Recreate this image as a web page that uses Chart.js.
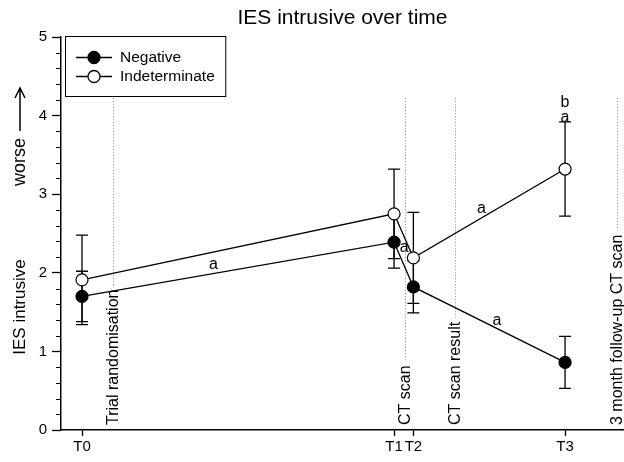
<!DOCTYPE html>
<html>
<head>
<meta charset="utf-8">
<script src="https://cdn.jsdelivr.net/npm/chart.js@4"></script>
<style>
  html, body { margin: 0; padding: 0; background: #fff; overflow: hidden; }
  #wrap { width: 624px; height: 462px; }
</style>
</head>
<body>
<div id="wrap"><canvas id="chart"></canvas></div>
<script>
// time points (arbitrary units, T0 = 0, T3 = 100)
const timeLabels = ['T0', 'T1', 'T2', 'T3'];
const times = [0, 64.6, 68.6, 100];

// means and error bar half-widths
const negMean = [1.70, 2.39, 1.82, 0.86];
const negErr = [0.32, 0.33, 0.33, 0.33];
const indMean = [1.91, 2.75, 2.19, 3.32];
const indErr = [0.57, 0.57, 0.58, 0.60];

// study events shown as dotted lines
const eventNames = ['Trial randomisation', 'CT scan', 'CT scan result', '3 month follow-up CT scan'];
const eventTimes = [6.4, 66.9, 77.2, 110.8];

// significance letters
const noteText = ['a', 'a', 'a', 'a', 'b', 'a'];
const noteX = [27.2, 66.7, 82.7, 85.9, 100, 100];
const noteY = [2.10, 2.32, 2.82, 1.39, 4.16, 3.98];

const FONT = "'Liberation Sans', Arial, sans-serif";
Chart.defaults.font.family = FONT;
Chart.defaults.color = '#000';

const errs = [negErr, indErr];
const means = [negMean, indMean];

const errorBars = {
    id: 'errorBars',
    beforeDatasetsDraw(chart) {
        const ctx = chart.ctx, xs = chart.scales.x, ys = chart.scales.y;
        ctx.save();
        ctx.strokeStyle = '#000';
        ctx.lineWidth = 1.3;
        means.forEach((m, d) => {
            m.forEach((v, i) => {
                const x = xs.getPixelForValue(times[i]);
                const y1 = ys.getPixelForValue(v + errs[d][i]);
                const y2 = ys.getPixelForValue(v - errs[d][i]);
                ctx.beginPath();
                ctx.moveTo(x, y1); ctx.lineTo(x, y2);
                ctx.moveTo(x - 6, y1); ctx.lineTo(x + 6, y1);
                ctx.moveTo(x - 6, y2); ctx.lineTo(x + 6, y2);
                ctx.stroke();
            });
        });
        ctx.restore();
    }
};

const events = {
    id: 'events',
    beforeDatasetsDraw(chart) {
        const ctx = chart.ctx, xs = chart.scales.x, ys = chart.scales.y;
        const base = chart.chartArea.bottom - 5;
        const top = ys.getPixelForValue(4.22);
        ctx.save();
        ctx.font = '16px ' + FONT;
        eventNames.forEach((name, i) => {
            const x = Math.round(xs.getPixelForValue(eventTimes[i])) + 0.5;
            const w = ctx.measureText(name).width;
            ctx.strokeStyle = '#888';
            ctx.lineWidth = 1;
            ctx.setLineDash([1, 2]);
            ctx.beginPath();
            ctx.moveTo(x, top); ctx.lineTo(x, base - w - 4);
            ctx.stroke();
            ctx.setLineDash([]);
            ctx.save();
            ctx.translate(x, base);
            ctx.rotate(-Math.PI / 2);
            ctx.fillStyle = '#000';
            ctx.textAlign = 'left';
            ctx.textBaseline = 'middle';
            ctx.fillText(name, 0, 0);
            ctx.restore();
        });
        ctx.restore();
    }
};

const notes = {
    id: 'notes',
    afterDatasetsDraw(chart) {
        const ctx = chart.ctx, xs = chart.scales.x, ys = chart.scales.y;
        ctx.save();
        ctx.font = '16px ' + FONT;
        ctx.fillStyle = '#000';
        ctx.textAlign = 'center';
        ctx.textBaseline = 'middle';
        noteText.forEach((t, i) => ctx.fillText(t, xs.getPixelForValue(noteX[i]), ys.getPixelForValue(noteY[i])));
        ctx.restore();
    }
};

const extras = {
    id: 'extras',
    afterDraw(chart) {
        const ctx = chart.ctx, ys = chart.scales.y, area = chart.chartArea;
        ctx.save();
        // minor y ticks
        ctx.strokeStyle = '#000';
        ctx.lineWidth = 1;
        ctx.beginPath();
        for (let k = 1; k < 25; k++) {
            if (k % 5 === 0) continue;
            const y = Math.round(ys.getPixelForValue(k / 5)) + 0.5;
            ctx.moveTo(area.left - 5, y); ctx.lineTo(area.left, y);
        }
        ctx.stroke();

        // y title
        ctx.fillStyle = '#000';
        ctx.font = '17px ' + FONT;
        ctx.textAlign = 'center';
        ctx.textBaseline = 'middle';
        ctx.save(); ctx.translate(20, 307); ctx.rotate(-Math.PI / 2); ctx.fillText('IES intrusive', 0, 0); ctx.restore();
        ctx.font = '18px ' + FONT;
        ctx.save(); ctx.translate(20, 162); ctx.rotate(-Math.PI / 2); ctx.fillText('worse', 0, 0); ctx.restore();
        ctx.lineWidth = 1.5;
        ctx.beginPath();
        ctx.moveTo(20, 131); ctx.lineTo(20, 88);
        ctx.moveTo(15, 98); ctx.lineTo(20, 88); ctx.lineTo(25, 98);
        ctx.stroke();

        // legend
        const ds = chart.data.datasets;
        ctx.font = '15.5px ' + FONT;
        const tw = Math.max(...ds.map(d => ctx.measureText(d.label).width));
        const bx = area.left + 4.5, by = area.top - 0.5;
        ctx.lineWidth = 1;
        ctx.strokeRect(bx, by, 120 - bx + tw + 11, 60);
        ds.forEach((d, i) => {
            const y = by + 21 + i * 19;
            ctx.lineWidth = 1.3;
            ctx.beginPath(); ctx.moveTo(76, y); ctx.lineTo(112, y); ctx.stroke();
            ctx.beginPath(); ctx.arc(94, y, 6, 0, Math.PI * 2);
            ctx.fillStyle = d.pointBackgroundColor; ctx.fill(); ctx.stroke();
            ctx.fillStyle = '#000';
            ctx.textAlign = 'left';
            ctx.fillText(d.label, 120, y);
        });
        ctx.restore();
    }
};

new Chart(document.getElementById('chart'), {
    type: 'line',
    data: {
        datasets: [
            { label: 'Negative', data: times.map((t, i) => ({ x: t, y: negMean[i] })),
              borderColor: '#000', borderWidth: 1.3, pointRadius: 6, pointBackgroundColor: '#000',
              pointBorderColor: '#000', pointBorderWidth: 1.2, tension: 0 },
            { label: 'Indeterminate', data: times.map((t, i) => ({ x: t, y: indMean[i] })),
              borderColor: '#000', borderWidth: 1.3, pointRadius: 6, pointBackgroundColor: '#fff',
              pointBorderColor: '#000', pointBorderWidth: 1.2, tension: 0 }
        ]
    },
    options: {
        animation: false,
        responsive: true,
        maintainAspectRatio: false,
        layout: { padding: 0, autoPadding: false },
        plugins: {
            legend: { display: false },
            tooltip: { enabled: false },
            title: { display: true, text: 'IES intrusive over time', fullSize: false, color: '#000',
                     font: { size: 21, weight: 'normal' }, padding: { top: 6, bottom: 5.8 } }
        },
        scales: {
            x: {
                type: 'linear', min: -4.35, max: 112.2,
                afterBuildTicks: s => { s.ticks = times.map(v => ({ value: v })); },
                afterFit: s => { s.height = 32; s.paddingLeft = 0; s.paddingRight = 0; },
                ticks: { callback: (v, i) => timeLabels[i], font: { size: 15 }, padding: 2, maxRotation: 0, autoSkip: false, color: '#000' },
                grid: { drawOnChartArea: false, tickLength: 6, color: '#000', tickWidth: 1.3 },
                border: { color: '#000', width: 1.5 }
            },
            y: {
                min: 0, max: 5,
                afterFit: s => { s.width = 61; s.paddingTop = 0; s.paddingBottom = 0; },
                ticks: { stepSize: 1, font: { size: 15 }, padding: 5, color: '#000' },
                grid: { drawOnChartArea: false, tickLength: 9, color: '#000', tickWidth: 1.3 },
                border: { color: '#000', width: 1.5 }
            }
        }
    },
    plugins: [errorBars, events, notes, extras]
});
</script>
</body>
</html>
